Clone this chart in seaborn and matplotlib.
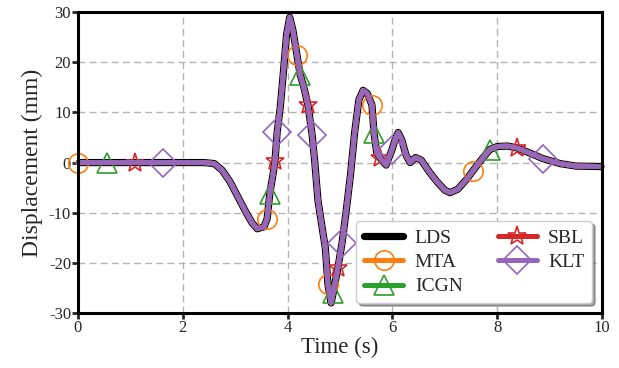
import numpy as np
import pandas as pd
import matplotlib
matplotlib.use("Agg")
import matplotlib.pyplot as plt
import seaborn as sns

# Time (s) and displacement (mm)
time_s = [0.0, 0.55, 1.09, 1.62, 2.0, 2.4, 2.6, 2.75, 2.9, 3.05, 3.2, 3.32,
          3.42, 3.55, 3.61, 3.66, 3.72, 3.76, 3.8, 3.86, 3.92, 3.98, 4.04,
          4.1, 4.18, 4.24, 4.3, 4.39, 4.47, 4.52, 4.58, 4.66, 4.72, 4.77,
          4.83, 4.87, 4.96, 5.04, 5.12, 5.2, 5.28, 5.36, 5.44, 5.52, 5.61,
          5.65, 5.7, 5.76, 5.88, 5.99, 6.05, 6.11, 6.18, 6.26, 6.34, 6.44,
          6.55, 6.7, 6.85, 7.0, 7.1, 7.25, 7.42, 7.54, 7.7, 7.86, 8.0, 8.2,
          8.38, 8.6, 8.87, 9.2, 9.5, 10.0]
displacement = [0, 0, 0, 0, 0, 0, -0.2, -1.5, -3.8, -6.8, -9.8, -12.0,
                -13.2, -12.8, -11.2, -6.2, -2.5, 0.4, 6.0, 11.0, 18.0, 25.5, 29.0,
                26.5, 21.4, 17.5, 15.5, 11.4, 5.4, 0.0, -7.6, -13.0, -17.0, -24.3,
                -28.0, -26.0, -21.0, -16.0, -9.5, -2.5, 6.0, 12.5, 14.4, 13.8, 11.5,
                5.8, 2.0, 1.0, -0.5, 2.5, 4.5, 6.0, 4.5, 1.5, 0.0, 1.0,
                0.5, -1.8, -3.8, -5.5, -6.0, -5.3, -3.3, -1.6, 0.6, 2.6, 3.2, 3.3,
                2.9, 2.0, 0.8, -0.2, -0.7, -0.8]

methods = ["LDS", "MTA", "ICGN", "SBL", "KLT"]
colors = ["black", "#ff7f0e", "#2ca02c", "#d62728", "#9467bd"]
markers = [None, "o", "^", "*", "D"]
# times at which each method's marker appears in the reference
marker_times = [None,
                [0.0, 3.61, 4.18, 4.77, 5.61, 7.54],
                [0.55, 3.66, 4.24, 4.87, 5.65, 7.86],
                [1.09, 3.76, 4.39, 4.96, 5.76, 8.38],
                [1.62, 3.8, 4.47, 5.04, 5.99, 8.87]]

sns.set_style("white")
plt.rcParams["font.family"] = ["Liberation Serif", "DejaVu Serif"]
plt.rcParams["axes.unicode_minus"] = False

fig = plt.figure(figsize=(6.19, 3.68), dpi=100)
ax = fig.add_axes([0.126, 0.1495, 0.8465, 0.8175])

df = pd.DataFrame({"t": time_s, "d": displacement})
t_arr = np.asarray(time_s)
for name, c, m, mt in zip(methods, colors, markers, marker_times):
    if m is None:
        sns.lineplot(data=df, x="t", y="d", ax=ax, color=c, lw=5.2,
                     label=name, sort=False, solid_capstyle="round",
                     solid_joinstyle="round")
    else:
        idx = [int(np.argmin(np.abs(t_arr - v))) for v in mt]
        sns.lineplot(data=df, x="t", y="d", ax=ax, color=c, lw=3.6,
                     label=name, sort=False, marker=m, markersize=14,
                     markerfacecolor="none", markeredgecolor=c,
                     markeredgewidth=1.2, markevery=idx,
                     clip_on=False, solid_capstyle="round",
                     solid_joinstyle="round")

ax.set_xlim(0, 10)
ax.set_ylim(-30, 30)
ax.set_xticks([0, 2, 4, 6, 8, 10])
ax.set_yticks([-30, -20, -10, 0, 10, 20, 30])
ax.set_xlabel("Time (s)", fontsize=16.5, labelpad=1)
ax.set_ylabel("Displacement (mm)", fontsize=17, labelpad=4)
ax.tick_params(axis="both", labelsize=12, direction="out", length=4, width=2,
               pad=1, bottom=True, left=True, top=False, right=False)
for s in ax.spines.values():
    s.set_linewidth(2.2)
    s.set_color("black")
ax.grid(True, color="#b4b4b4", linestyle=(0, (5, 3)), linewidth=1.0)
ax.set_axisbelow(True)

leg = ax.legend(loc="lower right", ncol=2, fontsize=14, shadow=True,
                fancybox=True, framealpha=1, edgecolor="#cccccc",
                handlelength=2.0, columnspacing=1.8, labelspacing=0.35,
                borderpad=0.4, handletextpad=0.6)

fig.savefig("out.png", dpi=100)
